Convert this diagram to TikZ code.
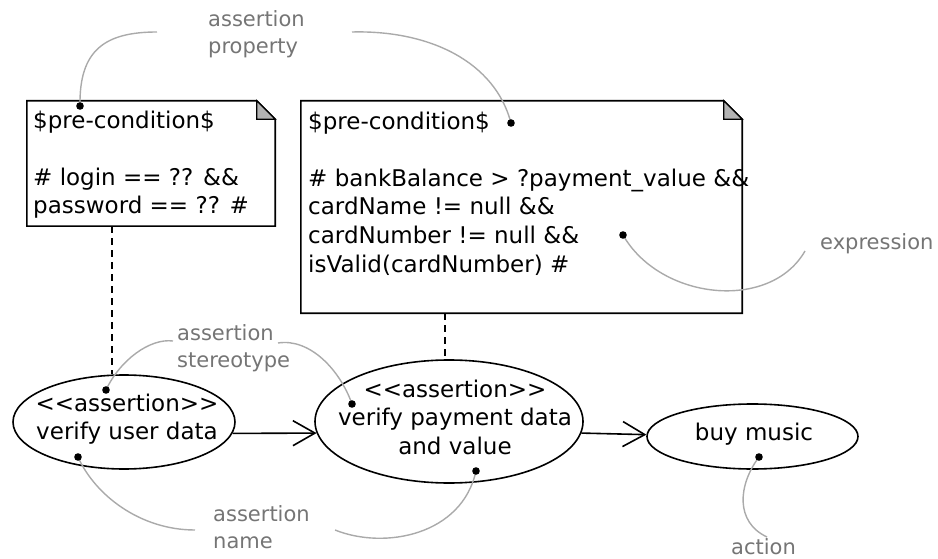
\documentclass[tikz,border=0pt]{standalone}
\usepackage{fontspec}
\setmainfont{DejaVu Sans}
\usetikzlibrary{arrows.meta,shapes.geometric}
\definecolor{lblgrey}{HTML}{757575}
\definecolor{curvegrey}{HTML}{AAAAAA}
\definecolor{foldgrey}{HTML}{B3B3B3}
\begin{document}
\begin{tikzpicture}[x=1pt,y=-1pt,
  outline/.style={draw=black, line width=1.6pt},
  noteframe/.style={draw=none, inner sep=0, rectangle},
  notetext/.style={font=\fontsize{23}{28.6}\selectfont, align=left, inner sep=0, anchor=north west},
  bodytext/.style={font=\fontsize{23}{28.8}\selectfont, align=center, inner sep=0, anchor=north},
  usecase/.style={ellipse, outline, inner sep=0},
  lbl/.style={font=\fontsize{21}{26.5}\selectfont, text=lblgrey, align=left, inner sep=0},
  conn/.style={draw=curvegrey, line width=1.4pt},
  dotmark/.style={fill=black},
  anchorline/.style={draw=black, line width=1.6pt, dash pattern=on 7pt off 5pt},
  flow/.style={draw=black, line width=1.6pt, -{Straight Barb[length=22pt,width=25pt]}}
]
\useasboundingbox (0,0) rectangle (938,559);

% ---- notes ----
\node[noteframe, minimum width=248pt, minimum height=125pt] (n1) at (151,163.5) {};
\draw[outline] (n1.north west) -- ([xshift=-18.5pt]n1.north east) -- ([yshift=-18.5pt]n1.north east) -- (n1.south east) -- (n1.south west) -- cycle;
\filldraw[fill=foldgrey, draw=black, line width=1.2pt] ([xshift=-18.5pt]n1.north east) -- ([xshift=-18.5pt,yshift=-18.5pt]n1.north east) -- ([yshift=-18.5pt]n1.north east) -- cycle;
\node[notetext] (t1) at (33,110.5) {\$pre-condition\$\\[28.6pt]\# login == ?? \&\&\\password == ?? \#};

\node[noteframe, minimum width=441pt, minimum height=212pt] (n2) at (521.5,207) {};
\draw[outline] (n2.north west) -- ([xshift=-18.5pt]n2.north east) -- ([yshift=-18.5pt]n2.north east) -- (n2.south east) -- (n2.south west) -- cycle;
\filldraw[fill=foldgrey, draw=black, line width=1.2pt] ([xshift=-18.5pt]n2.north east) -- ([xshift=-18.5pt,yshift=-18.5pt]n2.north east) -- ([yshift=-18.5pt]n2.north east) -- cycle;
\node[notetext] (t2) at (308,111.5) {\$pre-condition\$\\[28.6pt]\# bankBalance > ?payment\_value \&\&\\cardName != null \&\&\\cardNumber != null \&\&\\isValid(cardNumber) \#};

% ---- use cases ----
\node[usecase, minimum width=222pt, minimum height=94pt] (e1) at (124,422) {};
\node[usecase, minimum width=268pt, minimum height=123pt] (e2) at (449,421.5) {};
\node[usecase, minimum width=211pt, minimum height=65pt] (e3) at (752.5,436.5) {};
\node[bodytext] (e1t) at (127,393.5) {<{}<assertion>{}>\\verify user data};
\node[bodytext] (e2t) at (455,379.5) {<{}<assertion>{}>\\verify payment data\\and value};
\node[bodytext] (e3t) at (754,422.5) {buy music};

% ---- anchors and flow ----
\draw[anchorline] ([xshift=-39pt]n1.south) -- ([xshift=-39pt]n1.south |- e1.north);
\draw[anchorline] ([xshift=-76.5pt]n2.south) -- ([xshift=-76.5pt]n2.south |- e2.north);
\draw[flow] (e1.-6.4) -- (e2.185.4);
\draw[flow] (e2.-5.9) -- (e3.179.2);

% ---- grey labels ----
\node[lbl, anchor=north west] (lp) at (208,10.7) {assertion\\property};
\node[lbl, anchor=north west] (ls) at (177,324.7) {assertion\\stereotype};
\node[lbl, anchor=north west] (ln) at (213,505.7) {assertion\\name};
\node[lbl, anchor=base west] (lx) at (820,249.5) {expression};
\node[lbl, anchor=base west] (la) at (731,554) {action};

% ---- coordinates ----
\coordinate (d1) at (80,106);
\coordinate (d2) at (511,123);
\coordinate (d3) at (623,235);
\coordinate (d4) at (106,390);
\coordinate (d5) at (352,404);
\coordinate (d6) at (78,457);
\coordinate (d7) at (476,471);
\coordinate (d8) at (759,457);
\coordinate (c1) at (157,32);
\coordinate (c2) at (352,32);
\coordinate (c3) at (805,251);
\coordinate (c4) at (173,341);
\coordinate (c5) at (278,343);
\coordinate (c6) at (195,530);
\coordinate (c7) at (335,530);
\coordinate (c8) at (767,537);

% ---- grey connectors ----
\draw[conn] (c1) .. controls (105,32) and (79,50) .. (d1);
\draw[conn] (c2) .. controls (430,30) and (495,62) .. (d2);
\draw[conn] (d3) .. controls (660,300) and (770,312) .. (c3);
\draw[conn] (c4) .. controls (150,338) and (120,360) .. (d4);
\draw[conn] (c5) .. controls (310,338) and (340,370) .. (d5);
\draw[conn] (d6) .. controls (95,495) and (140,530) .. (c6);
\draw[conn] (c7) .. controls (385,550) and (462,535) .. (d7);
\draw[conn] (d8) .. controls (738,485) and (735,522) .. (c8);

% ---- dots ----
\foreach \d in {d1,d2,d3,d4,d5,d6,d7,d8} \fill[dotmark] (\d) circle (3.8pt);
\end{tikzpicture}
\end{document}
